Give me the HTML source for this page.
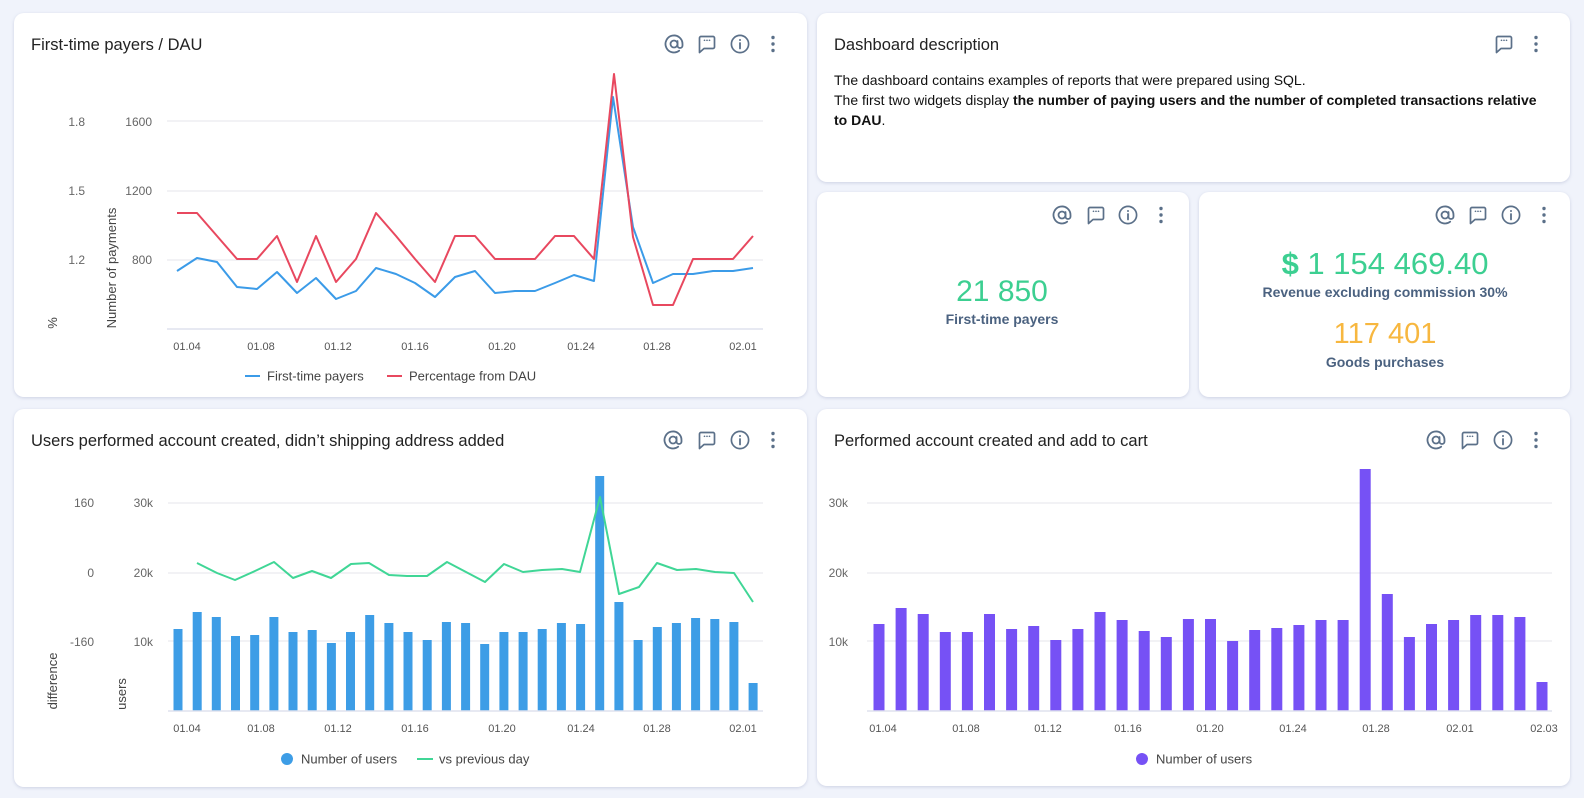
<!DOCTYPE html>
<html><head><meta charset="utf-8">
<style>
html,body{margin:0;padding:0;}
body{width:1584px;height:798px;background:#f0f3fb;position:relative;overflow:hidden;font-family:"Liberation Sans",sans-serif;}
.card{position:absolute;background:#fff;border-radius:10px;box-shadow:0 1px 3px rgba(140,150,185,0.35);}
.desc{position:absolute;left:834px;top:70px;font-size:14px;line-height:20px;color:#111;white-space:nowrap;}
svg{position:absolute;left:0;top:0;}
</style></head>
<body>
<div class="card" style="left:14px;top:13px;width:793px;height:384px"></div>
<div class="card" style="left:817px;top:13px;width:753px;height:169px"></div>
<div class="card" style="left:817px;top:192px;width:372px;height:205px"></div>
<div class="card" style="left:1199px;top:192px;width:371px;height:205px"></div>
<div class="card" style="left:14px;top:409px;width:793px;height:378px"></div>
<div class="card" style="left:817px;top:409px;width:753px;height:377px"></div>

<div class="desc">The dashboard contains examples of reports that were prepared using SQL.<br>The first two widgets display <b>the number of paying users and the number of completed transactions relative</b><br><b>to DAU</b>.</div>

<svg width="1584" height="798" viewBox="0 0 1584 798" xmlns="http://www.w3.org/2000/svg" font-family="Liberation Sans, sans-serif">
<defs>
<symbol id="at" viewBox="0 0 22 22"><g fill="none" stroke="#5b7089" stroke-width="1.8" stroke-linecap="round"><circle cx="11" cy="11" r="3.5"/><path d="M14.5 8 V12.5 A2.5 2.5 0 0 0 19.5 12.5 V11 A8.5 8.5 0 1 0 16.2 17.7"/></g></symbol>
<symbol id="chat" viewBox="0 0 22 22"><path d="M5 3.5 H17 A1.5 1.5 0 0 1 18.5 5 V14 A1.5 1.5 0 0 1 17 15.5 H8 L3.5 19.5 V5 A1.5 1.5 0 0 1 5 3.5 Z" fill="none" stroke="#5b7089" stroke-width="1.7" stroke-linejoin="round"/><circle cx="8.5" cy="7.3" r="0.85" fill="#5b7089"/><circle cx="11" cy="7.3" r="0.85" fill="#5b7089"/><circle cx="13.5" cy="7.3" r="0.85" fill="#5b7089"/></symbol>
<symbol id="info" viewBox="0 0 22 22"><circle cx="11" cy="11" r="8.6" fill="none" stroke="#5b7089" stroke-width="1.7"/><circle cx="11" cy="7" r="1" fill="#5b7089"/><path d="M11 10 V15.5" stroke="#5b7089" stroke-width="1.8" stroke-linecap="round"/></symbol>
<symbol id="dots" viewBox="0 0 22 22"><circle cx="11" cy="4.5" r="1.7" fill="#5b7089"/><circle cx="11" cy="11" r="1.7" fill="#5b7089"/><circle cx="11" cy="17.5" r="1.7" fill="#5b7089"/></symbol>
</defs>

<!-- ===== Card 1 ===== -->
<text x="31" y="50" font-size="16.5" fill="#222">First-time payers / DAU</text>
<use href="#at" x="663" y="33" width="22" height="22"/>
<use href="#chat" x="696" y="33" width="22" height="22"/>
<use href="#info" x="729" y="33" width="22" height="22"/>
<use href="#dots" x="762" y="33" width="22" height="22"/>

<g stroke="#e9e9ef" stroke-width="1.2">
<line x1="167" y1="121" x2="763" y2="121"/>
<line x1="167" y1="191" x2="763" y2="191"/>
<line x1="167" y1="260" x2="763" y2="260"/>
</g>
<line x1="167" y1="329" x2="763" y2="329" stroke="#dfe2ee" stroke-width="1.5"/>
<g font-size="12" fill="#666" text-anchor="end">
<text x="85" y="126">1.8</text><text x="85" y="195">1.5</text><text x="85" y="264">1.2</text>
<text x="152" y="126">1600</text><text x="152" y="195">1200</text><text x="152" y="264">800</text>
</g>
<text transform="translate(57,323) rotate(-90)" font-size="13" fill="#444" text-anchor="middle">%</text>
<text transform="translate(116,268) rotate(-90)" font-size="13" fill="#444" text-anchor="middle">Number of payments</text>
<g font-size="11" fill="#555" text-anchor="middle">
<text x="187" y="350">01.04</text><text x="261" y="350">01.08</text><text x="338" y="350">01.12</text><text x="415" y="350">01.16</text>
<text x="502" y="350">01.20</text><text x="581" y="350">01.24</text><text x="657" y="350">01.28</text><text x="743" y="350">02.01</text>
</g>
<polyline fill="none" stroke="#3b9be8" stroke-width="2" stroke-linejoin="round" points="177,271 197,258 217,262 237,287 257,289 277,272 297,293 316,278 336,299 356,291 376,268 396,274 415,283 435,297 455,277 475,271 495,293 515,291 535,291 555,283 574,275 594,281 613,97 633,227 653,283 673,274 693,274 713,271 733,271 753,268"/>
<polyline fill="none" stroke="#e8485f" stroke-width="2" stroke-linejoin="round" points="177,213 197,213 217,236 237,259 257,259 277,236 297,282 316,236 336,282 356,259 376,213 396,236 415,259 435,282 455,236 475,236 495,259 515,259 535,259 555,236 574,236 594,259 614,74 633,237 653,305 673,305 693,259 713,259 733,259 753,236"/>
<line x1="245" y1="376" x2="260" y2="376" stroke="#3b9be8" stroke-width="2"/>
<text x="267" y="380.5" font-size="13" fill="#444">First-time payers</text>
<line x1="387" y1="376" x2="402" y2="376" stroke="#e8485f" stroke-width="2"/>
<text x="409" y="380.5" font-size="13" fill="#444">Percentage from DAU</text>

<!-- ===== Description card ===== -->
<text x="834" y="50" font-size="16.5" fill="#222">Dashboard description</text>
<use href="#chat" x="1493" y="33" width="22" height="22"/>
<use href="#dots" x="1525" y="33" width="22" height="22"/>

<!-- ===== Small card 1 ===== -->
<use href="#at" x="1051" y="204" width="22" height="22"/>
<use href="#chat" x="1085" y="204" width="22" height="22"/>
<use href="#info" x="1117" y="204" width="22" height="22"/>
<use href="#dots" x="1150" y="204" width="22" height="22"/>
<text x="1002" y="301" font-size="30" fill="#3ccf91" text-anchor="middle">21 850</text>
<text x="1002" y="324" font-size="14" font-weight="bold" fill="#4b6280" text-anchor="middle">First-time payers</text>

<!-- ===== Small card 2 ===== -->
<use href="#at" x="1434" y="204" width="22" height="22"/>
<use href="#chat" x="1467" y="204" width="22" height="22"/>
<use href="#info" x="1500" y="204" width="22" height="22"/>
<use href="#dots" x="1533" y="204" width="22" height="22"/>
<text x="1385" y="274" font-size="31" fill="#3ccf91" text-anchor="middle"><tspan font-weight="bold">$</tspan> 1 154 469.40</text>
<text x="1385" y="297" font-size="14" font-weight="bold" fill="#4b6280" text-anchor="middle">Revenue excluding commission 30%</text>
<text x="1385" y="343" font-size="29" fill="#f7b73f" text-anchor="middle">117 401</text>
<text x="1385" y="367" font-size="14" font-weight="bold" fill="#4b6280" text-anchor="middle">Goods purchases</text>

<!-- ===== Card 3 ===== -->
<text x="31" y="446" font-size="16.5" fill="#222">Users performed account created, didn’t shipping address added</text>
<use href="#at" x="662" y="429" width="22" height="22"/>
<use href="#chat" x="696" y="429" width="22" height="22"/>
<use href="#info" x="729" y="429" width="22" height="22"/>
<use href="#dots" x="762" y="429" width="22" height="22"/>
<g stroke="#e9e9ef" stroke-width="1.2">
<line x1="168" y1="503" x2="763" y2="503"/>
<line x1="168" y1="573" x2="763" y2="573"/>
<line x1="168" y1="641" x2="763" y2="641"/>
</g>
<g font-size="12" fill="#666" text-anchor="end">
<text x="94" y="507">160</text><text x="94" y="577">0</text><text x="94" y="646">-160</text>
<text x="153" y="507">30k</text><text x="153" y="577">20k</text><text x="153" y="646">10k</text>
</g>
<text transform="translate(57,681) rotate(-90)" font-size="13" fill="#444" text-anchor="middle">difference</text>
<text transform="translate(126,694) rotate(-90)" font-size="13" fill="#444" text-anchor="middle">users</text>
<g fill="#3d9de6">
<rect x="173.5" y="629" width="9" height="82"/>
<rect x="192.7" y="612" width="9" height="99"/>
<rect x="211.8" y="617" width="9" height="94"/>
<rect x="231.0" y="636" width="9" height="75"/>
<rect x="250.2" y="635" width="9" height="76"/>
<rect x="269.4" y="617" width="9" height="94"/>
<rect x="288.5" y="632" width="9" height="79"/>
<rect x="307.7" y="630" width="9" height="81"/>
<rect x="326.9" y="643" width="9" height="68"/>
<rect x="346.0" y="632" width="9" height="79"/>
<rect x="365.2" y="615" width="9" height="96"/>
<rect x="384.4" y="623" width="9" height="88"/>
<rect x="403.5" y="632" width="9" height="79"/>
<rect x="422.7" y="640" width="9" height="71"/>
<rect x="441.9" y="622" width="9" height="89"/>
<rect x="461.1" y="623" width="9" height="88"/>
<rect x="480.2" y="644" width="9" height="67"/>
<rect x="499.4" y="632" width="9" height="79"/>
<rect x="518.6" y="632" width="9" height="79"/>
<rect x="537.7" y="629" width="9" height="82"/>
<rect x="556.9" y="623" width="9" height="88"/>
<rect x="576.1" y="624" width="9" height="87"/>
<rect x="595.2" y="476" width="9" height="235"/>
<rect x="614.4" y="602" width="9" height="109"/>
<rect x="633.6" y="640" width="9" height="71"/>
<rect x="652.8" y="627" width="9" height="84"/>
<rect x="671.9" y="623" width="9" height="88"/>
<rect x="691.1" y="618" width="9" height="93"/>
<rect x="710.3" y="619" width="9" height="92"/>
<rect x="729.4" y="622" width="9" height="89"/>
<rect x="748.6" y="683" width="9" height="28"/>
</g>
<line x1="168" y1="711" x2="763" y2="711" stroke="#dfe2ee" stroke-width="1.5"/>
<polyline fill="none" stroke="#40d696" stroke-width="2" stroke-linejoin="round" points="197,563 217,573 235,580 255,571 274,562 293,578 312,571 331,578 351,564 369,563 389,575 407,576 427,576 447,562 466,572 485,582 504,564 523,572 542,570 562,569 580,572 600,497 619,594 639,587 657,563 677,570 696,569 715,572 734,573 753,602"/>
<g font-size="11" fill="#555" text-anchor="middle">
<text x="187" y="732">01.04</text><text x="261" y="732">01.08</text><text x="338" y="732">01.12</text><text x="415" y="732">01.16</text>
<text x="502" y="732">01.20</text><text x="581" y="732">01.24</text><text x="657" y="732">01.28</text><text x="743" y="732">02.01</text>
</g>
<circle cx="287" cy="759" r="6" fill="#3d9de6"/>
<text x="301" y="763.5" font-size="13" fill="#444">Number of users</text>
<line x1="417" y1="759" x2="433" y2="759" stroke="#40d696" stroke-width="2"/>
<text x="439" y="763.5" font-size="13" fill="#444">vs previous day</text>

<!-- ===== Card 4 ===== -->
<text x="834" y="446" font-size="16.5" fill="#222">Performed account created and add to cart</text>
<use href="#at" x="1425" y="429" width="22" height="22"/>
<use href="#chat" x="1459" y="429" width="22" height="22"/>
<use href="#info" x="1492" y="429" width="22" height="22"/>
<use href="#dots" x="1525" y="429" width="22" height="22"/>
<g stroke="#e9e9ef" stroke-width="1.2">
<line x1="867" y1="503" x2="1552" y2="503"/>
<line x1="867" y1="573" x2="1552" y2="573"/>
<line x1="867" y1="641" x2="1552" y2="641"/>
</g>
<g font-size="12" fill="#666" text-anchor="end">
<text x="848" y="507">30k</text><text x="848" y="577">20k</text><text x="848" y="646">10k</text>
</g>
<g fill="#7651f5">
<rect x="873.5" y="624" width="11" height="87"/>
<rect x="895.6" y="608" width="11" height="103"/>
<rect x="917.7" y="614" width="11" height="97"/>
<rect x="939.8" y="632" width="11" height="79"/>
<rect x="961.9" y="632" width="11" height="79"/>
<rect x="984.0" y="614" width="11" height="97"/>
<rect x="1006.1" y="629" width="11" height="82"/>
<rect x="1028.2" y="626" width="11" height="85"/>
<rect x="1050.3" y="640" width="11" height="71"/>
<rect x="1072.4" y="629" width="11" height="82"/>
<rect x="1094.5" y="612" width="11" height="99"/>
<rect x="1116.6" y="620" width="11" height="91"/>
<rect x="1138.7" y="631" width="11" height="80"/>
<rect x="1160.8" y="637" width="11" height="74"/>
<rect x="1182.9" y="619" width="11" height="92"/>
<rect x="1205.0" y="619" width="11" height="92"/>
<rect x="1227.1" y="641" width="11" height="70"/>
<rect x="1249.2" y="630" width="11" height="81"/>
<rect x="1271.3" y="628" width="11" height="83"/>
<rect x="1293.4" y="625" width="11" height="86"/>
<rect x="1315.5" y="620" width="11" height="91"/>
<rect x="1337.6" y="620" width="11" height="91"/>
<rect x="1359.7" y="469" width="11" height="242"/>
<rect x="1381.8" y="594" width="11" height="117"/>
<rect x="1403.9" y="637" width="11" height="74"/>
<rect x="1426.0" y="624" width="11" height="87"/>
<rect x="1448.1" y="620" width="11" height="91"/>
<rect x="1470.2" y="615" width="11" height="96"/>
<rect x="1492.3" y="615" width="11" height="96"/>
<rect x="1514.4" y="617" width="11" height="94"/>
<rect x="1536.5" y="682" width="11" height="29"/>
</g>
<line x1="867" y1="711" x2="1552" y2="711" stroke="#dfe2ee" stroke-width="1.5"/>
<g font-size="11" fill="#555" text-anchor="middle">
<text x="883" y="732">01.04</text><text x="966" y="732">01.08</text><text x="1048" y="732">01.12</text><text x="1128" y="732">01.16</text>
<text x="1210" y="732">01.20</text><text x="1293" y="732">01.24</text><text x="1376" y="732">01.28</text><text x="1460" y="732">02.01</text><text x="1544" y="732">02.03</text>
</g>
<circle cx="1142" cy="759" r="6" fill="#7651f5"/>
<text x="1156" y="763.5" font-size="13" fill="#444">Number of users</text>
</svg>
</body></html>
